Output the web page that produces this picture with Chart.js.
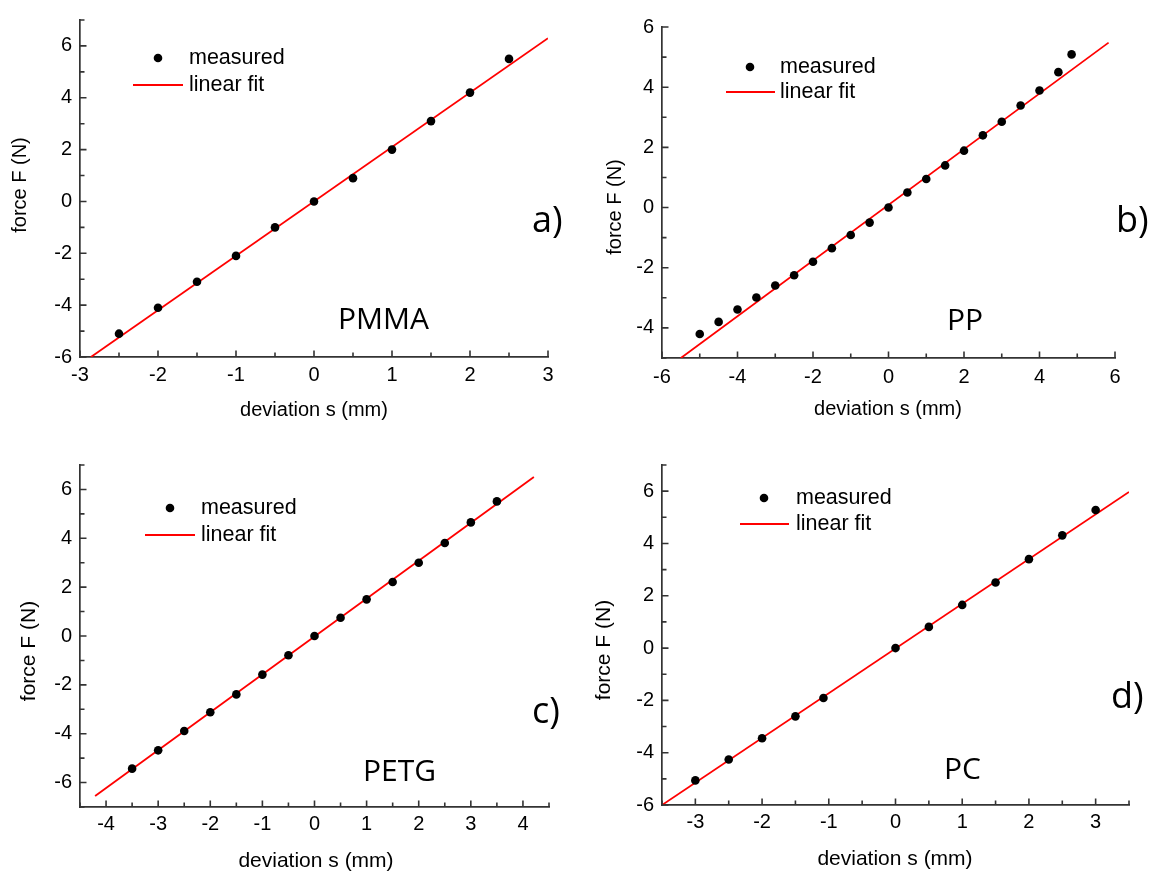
<!DOCTYPE html>
<html>
<head>
<meta charset="utf-8">
<title>force vs deviation</title>
<script src="https://cdn.jsdelivr.net/npm/chart.js@4.4.1/dist/chart.umd.min.js"></script>
<style>
  body { margin: 0; background: #fff; }
  #page { position: relative; width: 1153px; height: 872px; overflow: hidden; }
  #page canvas { position: absolute; }
</style>
</head>
<body>
<div id="page">
  <canvas id="panelA" width="576" height="436" style="left:0;top:0"></canvas>
  <canvas id="panelB" width="577" height="436" style="left:576px;top:0"></canvas>
  <canvas id="panelC" width="576" height="436" style="left:0;top:436px"></canvas>
  <canvas id="panelD" width="577" height="436" style="left:576px;top:436px"></canvas>
</div>
<script>
'use strict'

const xTitle = 'deviation s (mm)';
const yTitle = 'force F (N)';
const seriesNames = ['measured', 'linear fit'];

// a) PMMA
const sPMMA = [-2.5, -2, -1.5, -1, -0.5, 0, 0.5, 1, 1.5, 2, 2.5];
const fPMMA = [-5.1, -4.1, -3.1, -2.1, -1.0, 0, 0.9, 2.0, 3.1, 4.2, 5.5];
const fitSPMMA = [-2.86, 3];
const fitFPMMA = [-6, 6.3];
const xTicksPMMA = [-3, -2, -1, 0, 1, 2, 3];
const yTicksPMMA = [-6, -4, -2, 0, 2, 4, 6];

// b) PP
const sPP = [-5, -4.5, -4, -3.5, -3, -2.5, -2, -1.5, -1, -0.5, 0, 0.5, 1, 1.5, 2, 2.5, 3, 3.5, 4, 4.5, 4.85];
const fPP = [-4.2, -3.8, -3.39, -2.99, -2.59, -2.25, -1.8, -1.35, -0.91, -0.5, 0, 0.5, 0.95, 1.4, 1.89, 2.4, 2.85, 3.39, 3.89, 4.5, 5.09];
const fitSPP = [-5.5, 5.83];
const fitFPP = [-5, 5.48];
const xTicksPP = [-6, -4, -2, 0, 2, 4, 6];
const yTicksPP = [-4, -2, 0, 2, 4, 6];

// c) PETG
const sPETG = [-3.5, -3, -2.5, -2, -1.5, -1, -0.5, 0, 0.5, 1, 1.5, 2, 2.5, 3, 3.5];
const fPETG = [-5.43, -4.68, -3.89, -3.12, -2.39, -1.58, -0.79, 0, 0.75, 1.5, 2.21, 3.0, 3.81, 4.65, 5.51];
const fitSPETG = [-4.21, 4.21];
const fitFPETG = [-6.55, 6.51];
const xTicksPETG = [-4, -3, -2, -1, 0, 1, 2, 3, 4];
const yTicksPETG = [-6, -4, -2, 0, 2, 4, 6];

// d) PC
const sPC = [-3, -2.5, -2, -1.5, -1.08, 0, 0.5, 1, 1.5, 2, 2.5, 3];
const fPC = [-5.06, -4.26, -3.45, -2.61, -1.91, 0, 0.81, 1.65, 2.51, 3.4, 4.31, 5.28];
const fitSPC = [-3.5, 3.5];
const fitFPC = [-6, 5.97];
const xTicksPC = [-3, -2, -1, 0, 1, 2, 3];
const yTicksPC = [-6, -4, -2, 0, 2, 4, 6];

const sansFont = '"Liberation Sans", Arial, sans-serif';
const tagFont = '"Open Sans", sans-serif';
const axisColor = '#333';

const panels = [
  {canvas: 'panelA', tag: 'a)', name: 'PMMA', s: sPMMA, f: fPMMA, fitS: fitSPMMA, fitF: fitFPMMA,
   xRange: [-3, 3], yRange: [-6, 7], xTicks: xTicksPMMA, yTicks: yTicksPMMA, xMinor: 0.5, yMinor: 1,
   box: {left: 80, right: 548, top: 14, bottom: 357}, xPad: 6,
   tagPos: [532, 232], namePos: [338, 329],
   legend: {dot: [158, 58], line: [133, 183, 85], text: 189},
   xTitlePos: [314, 410], yTitlePos: [20, 185], titleSize: 20},
  {canvas: 'panelB', tag: 'b)', name: 'PP', s: sPP, f: fPP, fitS: fitSPP, fitF: fitFPP,
   xRange: [-6, 6], yRange: [-5, 6], xTicks: xTicksPP, yTicks: yTicksPP, xMinor: 1, yMinor: 1,
   box: {left: 86, right: 539, top: 27, bottom: 358}, xPad: 7,
   tagPos: [540, 232], namePos: [371, 330],
   legend: {dot: [174, 67], line: [150, 199, 92], text: 204},
   xTitlePos: [312, 409], yTitlePos: [39, 207], titleSize: 20},
  {canvas: 'panelC', tag: 'c)', name: 'PETG', s: sPETG, f: fPETG, fitS: fitSPETG, fitF: fitFPETG,
   xRange: [-4.5, 4.5], yRange: [-7, 7], xTicks: xTicksPETG, yTicks: yTicksPETG, xMinor: 0.5, yMinor: 1,
   box: {left: 80, right: 549, top: 29, bottom: 371}, xPad: 5,
   tagPos: [532, 287], namePos: [363, 345],
   legend: {dot: [170, 72], line: [145, 195, 99], text: 201},
   xTitlePos: [316, 425], yTitlePos: [29, 215], titleSize: 21},
  {canvas: 'panelD', tag: 'd)', name: 'PC', s: sPC, f: fPC, fitS: fitSPC, fitF: fitFPC,
   xRange: [-3.5, 3.5], yRange: [-6, 7], xTicks: xTicksPC, yTicks: yTicksPC, xMinor: 0.5, yMinor: 1,
   box: {left: 86, right: 553, top: 29, bottom: 369}, xPad: 5,
   tagPos: [535, 272], namePos: [368, 343],
   legend: {dot: [188, 62], line: [164, 213, 88], text: 220},
   xTitlePos: [319, 423], yTitlePos: [28, 214], titleSize: 21}
];

function isLabeled(list, v) {
  return list.some(t => Math.abs(t - v) < 1e-9);
}

// inward ticks, legend, axis titles and panel tags
function decor(p) {
  return {
    id: 'decor',
    afterDraw(chart) {
      const ctx = chart.ctx;
      const xs = chart.scales.x;
      const ys = chart.scales.y;
      ctx.save();

      ctx.strokeStyle = axisColor;
      ctx.lineWidth = 1.6;
      ctx.beginPath();
      const nx = Math.round((p.xRange[1] - p.xRange[0]) / p.xMinor);
      for (let i = 0; i <= nx; i++) {
        const v = p.xRange[0] + i * p.xMinor;
        const px = xs.getPixelForValue(v);
        const len = isLabeled(p.xTicks, v) ? 6.5 : 4.5;
        ctx.moveTo(px, ys.bottom);
        ctx.lineTo(px, ys.bottom - len);
      }
      const ny = Math.round((p.yRange[1] - p.yRange[0]) / p.yMinor);
      for (let i = 0; i <= ny; i++) {
        const v = p.yRange[0] + i * p.yMinor;
        const py = ys.getPixelForValue(v);
        const len = isLabeled(p.yTicks, v) ? 6.5 : 4.5;
        ctx.moveTo(xs.left, py);
        ctx.lineTo(xs.left + len, py);
      }
      ctx.stroke();

      // legend
      const lg = p.legend;
      ctx.fillStyle = '#000';
      ctx.beginPath();
      ctx.arc(lg.dot[0], lg.dot[1], 4.3, 0, Math.PI * 2);
      ctx.fill();
      ctx.strokeStyle = '#ff0000';
      ctx.lineWidth = 1.8;
      ctx.beginPath();
      ctx.moveTo(lg.line[0], lg.line[2]);
      ctx.lineTo(lg.line[1], lg.line[2]);
      ctx.stroke();
      ctx.font = '21.5px ' + sansFont;
      ctx.textAlign = 'left';
      ctx.textBaseline = 'middle';
      ctx.fillText(chart.data.datasets[0].label, lg.text, lg.dot[1]);
      ctx.fillText(chart.data.datasets[1].label, lg.text, lg.line[2]);

      // axis titles
      ctx.font = p.titleSize + 'px ' + sansFont;
      ctx.textAlign = 'center';
      ctx.fillText(xTitle, p.xTitlePos[0], p.xTitlePos[1]);
      ctx.save();
      ctx.translate(p.yTitlePos[0], p.yTitlePos[1]);
      ctx.rotate(-Math.PI / 2);
      ctx.fillText(yTitle, 0, 0);
      ctx.restore();

      // material and panel letter
      ctx.textAlign = 'left';
      ctx.textBaseline = 'alphabetic';
      ctx.font = '30px ' + tagFont;
      ctx.fillText(p.name, p.namePos[0], p.namePos[1]);
      ctx.font = '36px ' + tagFont;
      ctx.fillText(p.tag, p.tagPos[0], p.tagPos[1]);

      ctx.restore();
    }
  };
}

function buildPanel(p) {
  const el = document.getElementById(p.canvas);
  const W = el.width;
  const H = el.height;
  const measured = p.s.map((v, i) => ({x: v, y: p.f[i]}));
  const fit = p.fitS.map((v, i) => ({x: v, y: p.fitF[i]}));

  return new Chart(el, {
    type: 'scatter',
    data: {
      datasets: [
        {label: seriesNames[0], data: measured, showLine: false,
         pointRadius: 4.3, pointHoverRadius: 4.3, backgroundColor: '#000', borderWidth: 0},
        {label: seriesNames[1], data: fit, showLine: true,
         borderColor: '#ff0000', backgroundColor: '#ff0000', borderWidth: 1.8, pointRadius: 0}
      ]
    },
    options: {
      responsive: false,
      animation: false,
      events: [],
      layout: {padding: {left: 0, top: p.box.top, right: W - p.box.right, bottom: 0}},
      plugins: {legend: {display: false}, tooltip: {enabled: false}},
      scales: {
        x: {
          type: 'linear',
          position: 'bottom',
          min: p.xRange[0],
          max: p.xRange[1],
          afterBuildTicks: s => { s.ticks = p.xTicks.map(v => ({value: v})); },
          afterFit: s => { s.height = H - p.box.bottom; },
          ticks: {color: '#000', font: {family: sansFont, size: 20}, padding: p.xPad,
                  autoSkip: false, maxRotation: 0, callback: v => String(v)},
          grid: {display: false, drawTicks: false},
          border: {display: true, color: axisColor, width: 1.7}
        },
        y: {
          type: 'linear',
          position: 'left',
          min: p.yRange[0],
          max: p.yRange[1],
          afterBuildTicks: s => { s.ticks = p.yTicks.map(v => ({value: v})); },
          afterFit: s => { s.width = p.box.left; },
          ticks: {color: '#000', font: {family: sansFont, size: 20}, padding: 8,
                  autoSkip: false, callback: v => String(v)},
          grid: {display: false, drawTicks: false},
          border: {display: true, color: axisColor, width: 1.7}
        }
      }
    },
    plugins: [decor(p)]
  });
}

panels.forEach(buildPanel);
</script>
</body>
</html>
